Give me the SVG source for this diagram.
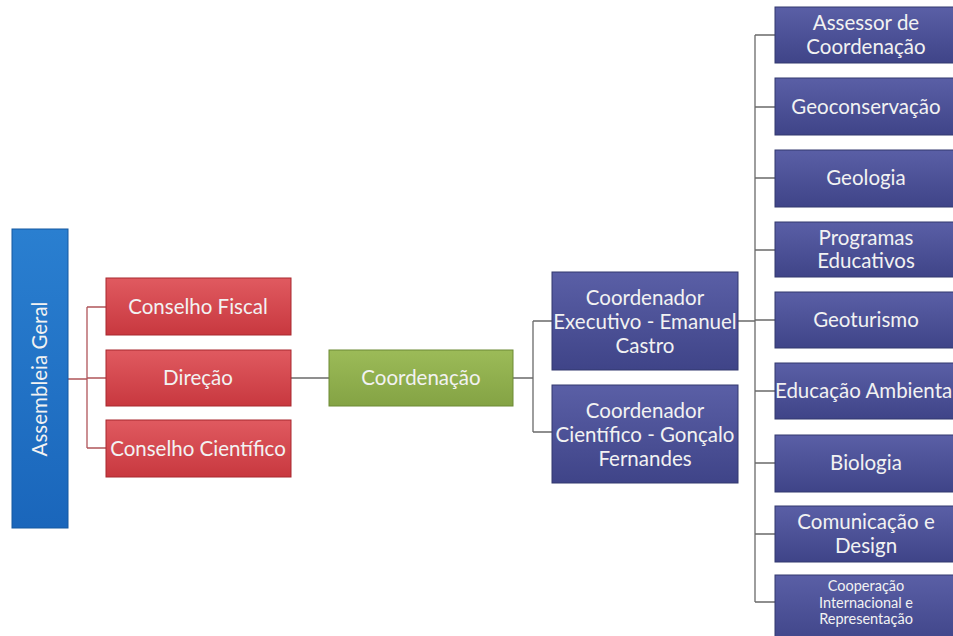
<svg xmlns="http://www.w3.org/2000/svg" width="953" height="636" viewBox="0 0 953 636">
<defs>
<linearGradient id="gBlue" x1="0" y1="0" x2="0" y2="1"><stop offset="0" stop-color="#5a5fa6"/><stop offset="1" stop-color="#3f4488"/></linearGradient>
<linearGradient id="gRed" x1="0" y1="0" x2="0" y2="1"><stop offset="0" stop-color="#e05a60"/><stop offset="1" stop-color="#c8383f"/></linearGradient>
<linearGradient id="gGreen" x1="0" y1="0" x2="0" y2="1"><stop offset="0" stop-color="#9cbb58"/><stop offset="1" stop-color="#84a344"/></linearGradient>
<linearGradient id="gAss" x1="0" y1="0" x2="0" y2="1"><stop offset="0" stop-color="#2a7fd0"/><stop offset="1" stop-color="#1a66bb"/></linearGradient>
</defs>
<style>
text{font-family:Lato,"Liberation Sans",sans-serif;font-size:20.5px;fill:#f2f2f2;text-anchor:middle}
.blue{fill:url(#gBlue);stroke:#33386f;stroke-width:1}
.red{fill:url(#gRed);stroke:#a8282e;stroke-width:1}
.green{fill:url(#gGreen);stroke:#6d8a34;stroke-width:1}
.ass{fill:url(#gAss);stroke:#1558a0;stroke-width:1}
.c{fill:none;stroke:#6a6a6a;stroke-width:1.3}
.cr{fill:none;stroke:#b0555a;stroke-width:1.3}
.sm{font-size:14.5px}
</style>
<rect width="953" height="636" fill="#ffffff"/>
<g id="connectors">
<path class="cr" d="M68 379H87M87 307V448M87 307H106M87 378H106M87 448H106"/>
<path class="c" d="M291 378H329"/>
<path class="c" d="M513 378H533M533 321V432M533 321H552M533 432H552"/>
<path class="c" d="M738 321H755M755 35V602M755 35H775M755 107H775M755 178H775M755 250H775M755 320H775M755 391H775M755 463H775M755 534H775M755 602H775"/>
</g>
<g id="assembleia"><rect class="ass" x="12" y="229" width="56" height="299"/><text transform="translate(47 379) rotate(-90)">Assembleia Geral</text></g>
<g id="conselho-fiscal"><rect class="red" x="106" y="278" width="185" height="57"/><text x="198" y="314">Conselho Fiscal</text></g>
<g id="direcao"><rect class="red" x="106" y="350" width="185" height="56"/><text x="198" y="385">Direção</text></g>
<g id="conselho-cientifico"><rect class="red" x="106" y="420" width="185" height="57"/><text x="198" y="456">Conselho Científico</text></g>
<g id="coordenacao"><rect class="green" x="329" y="350" width="184" height="56"/><text x="421" y="385">Coordenação</text></g>
<g id="coord-exec"><rect class="blue" x="552" y="272" width="186" height="98"/><text x="645" y="305">Coordenador</text><text x="645" y="329">Executivo - Emanuel</text><text x="645" y="353">Castro</text></g>
<g id="coord-cient"><rect class="blue" x="552" y="385" width="186" height="98"/><text x="645" y="418">Coordenador</text><text x="645" y="442">Científico - Gonçalo</text><text x="645" y="466">Fernandes</text></g>
<g id="assessor"><rect class="blue" x="775" y="7" width="190" height="56"/><text x="866" y="30">Assessor de</text><text x="866" y="54">Coordenação</text></g>
<g id="geoconservacao"><rect class="blue" x="775" y="78" width="190" height="57"/><text x="866" y="114">Geoconservação</text></g>
<g id="geologia"><rect class="blue" x="775" y="150" width="190" height="57"/><text x="866" y="185">Geologia</text></g>
<g id="programas"><rect class="blue" x="775" y="222" width="190" height="55"/><text x="866" y="245">Programas</text><text x="866" y="268">Educativos</text></g>
<g id="geoturismo"><rect class="blue" x="775" y="292" width="190" height="56"/><text x="866" y="327">Geoturismo</text></g>
<g id="educacao"><rect class="blue" x="775" y="363" width="190" height="56"/><text x="866" y="398">Educação Ambiental</text></g>
<g id="biologia"><rect class="blue" x="775" y="435" width="190" height="57"/><text x="866" y="470">Biologia</text></g>
<g id="comunicacao"><rect class="blue" x="775" y="506" width="190" height="56"/><text x="866" y="529">Comunicação e</text><text x="866" y="553">Design</text></g>
<g id="cooperacao"><rect class="blue" x="775" y="575" width="190" height="70"/><text class="sm" x="866" y="591">Cooperação</text><text class="sm" x="866" y="607.5">Internacional e</text><text class="sm" x="866" y="624">Representação</text></g>
</svg>
